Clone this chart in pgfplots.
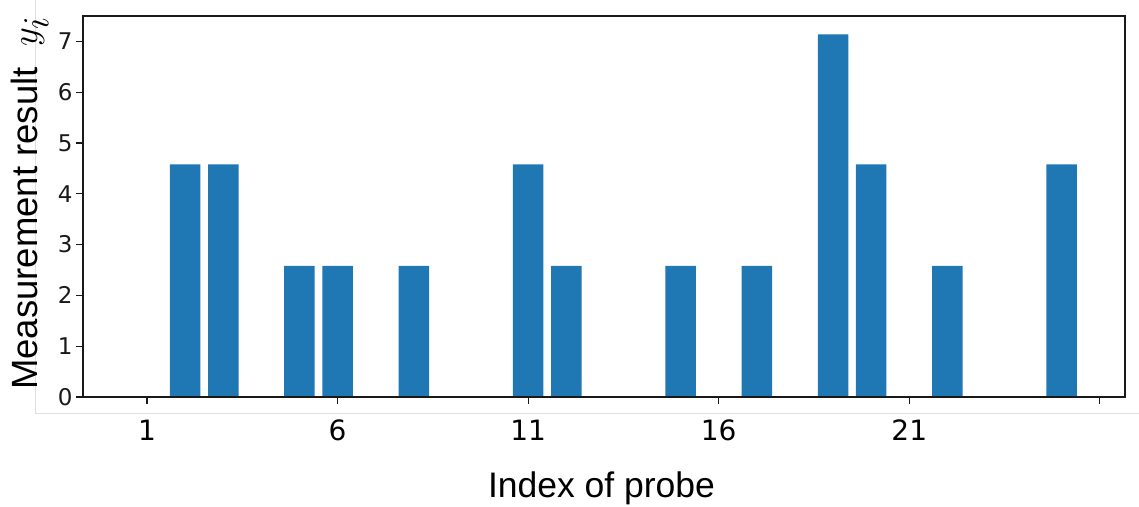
\documentclass[border=0pt]{standalone}
\usepackage{fontspec}
\setmainfont{Liberation Sans}
\newfontfamily\dejavu{DejaVu Sans}
\usepackage{pgfplots}
\pgfplotsset{compat=1.18}
\definecolor{barblue}{HTML}{1F77B4}
\begin{document}
\begin{tikzpicture}[x=1pt,y=1pt]
\useasboundingbox (0,0) rectangle (1139,506);
\draw[black!12, line width=0.8pt] (35.5,506) -- (35.5,93) -- (1139,93);
\begin{axis}[
  at={(83pt,109pt)}, anchor=south west,
  scale only axis, width=1042pt, height=381pt,
  xmin=-0.68, xmax=26.66, ymin=0, ymax=7.5,
  xtick={1,6,11,16,21,26}, xticklabels={1,6,11,16,21,{}},
  ytick={0,1,2,3,4,5,6,7},
  xtick pos=bottom, ytick pos=left,
  tick align=outside, major tick length=7pt,
  tick style={line width=1.2pt, black!90},
  axis line style={line width=1.6pt, black!90},
  axis on top,
  /pgf/number format/assume math mode=true,
  xticklabel style={font=\dejavu\fontsize{28}{28}\selectfont, anchor=center, yshift=-26pt, text=black},
  yticklabel style={font=\dejavu\fontsize{23}{23}\selectfont, text=black!90},
  ybar, bar width=0.8,
]
\addplot[fill=barblue, draw=none] coordinates {
(2,4.58) (3,4.58) (5,2.58) (6,2.58) (8,2.58) (11,4.58) (12,2.58)
(15,2.58) (17,2.58) (19,7.14) (20,4.58) (22,2.58) (25,4.58)
};
\end{axis}
\node[rotate=90, anchor=base west, font=\fontsize{36.5}{36.5}\selectfont, inner sep=0] at (37,116) {Measurement result\ \ \scalebox{1.47}{$y_i$}};
\node[anchor=base, font=\fontsize{35.5}{35.5}\selectfont, inner sep=0] at (601.5,9) {Index of probe};
\end{tikzpicture}
\end{document}
